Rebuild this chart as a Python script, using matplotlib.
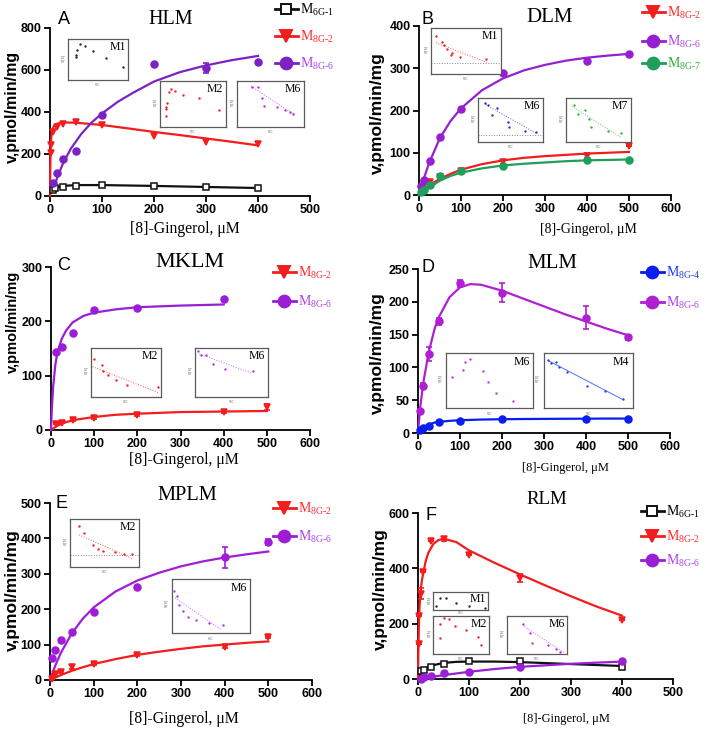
import matplotlib
matplotlib.use('Agg')
import matplotlib.pyplot as plt
from matplotlib.lines import Line2D
from matplotlib.font_manager import FontProperties

plt.rcParams['mathtext.fontset'] = 'custom'
plt.rcParams['mathtext.rm'] = 'Liberation Serif'
plt.rcParams['mathtext.it'] = 'Liberation Serif:italic'
plt.rcParams['mathtext.bf'] = 'Liberation Serif:bold'

W, H = 708, 732

# ---------------- data ----------------
# Panel A  HLM
a_x6g1 = [5, 10, 25, 50, 100, 200, 300, 400]
a_y6g1 = [28, 36, 45, 50, 52, 46, 42, 38]
a_fx6g1 = [2, 5, 10, 25, 50, 100, 200, 300, 400]
a_fy6g1 = [15, 30, 40, 48, 52, 52, 48, 43, 38]
a_x8g2 = [1, 2.5, 5, 12.5, 25, 50, 100, 200, 300, 400]
a_y8g2 = [205, 245, 305, 330, 345, 352, 338, 288, 258, 248]
a_fx8g2 = [0, 0.5, 1, 2, 3, 5, 8, 12, 20, 30, 50, 100, 150, 200, 250, 300, 350, 400]
a_fy8g2 = [0, 120, 200, 265, 295, 320, 335, 343, 348, 350, 349, 338, 322, 305, 290, 274, 258, 241]
a_x8g6 = [5, 12.5, 25, 50, 100, 200, 300, 400]
a_y8g6 = [62, 108, 178, 215, 385, 630, 610, 638]
a_e8g6 = [0, 0, 0, 0, 0, 0, 22, 0]
a_fx8g6 = [6, 10, 15, 25, 40, 60, 80, 100, 130, 160, 200, 250, 300, 350, 400]
a_fy8g6 = [35, 60, 95, 155, 225, 295, 350, 393, 448, 492, 545, 590, 622, 647, 667]

# Panel B  DLM
b_x = [5, 12.5, 25, 50, 100, 200, 400, 500]
b_y8g2 = [15, 26, 31, 42, 57, 78, 93, 117]
b_e8g2 = [0, 0, 4, 3, 0, 5, 6, 0]
b_y8g6 = [22, 36, 80, 137, 204, 288, 317, 334]
b_e8g6 = [0, 0, 0, 0, 0, 0, 5, 0]
b_y8g7 = [6, 13, 24, 46, 57, 68, 84, 83]
b_e8g7 = [0, 0, 3, 3, 3, 3, 3, 0]
b_fx = [0, 5, 12.5, 25, 50, 75, 100, 150, 200, 250, 300, 350, 400, 450, 500]
b_fy8g2 = [0, 5, 13, 24, 38, 50, 60, 73, 82, 88, 92, 95, 98, 100, 102]
b_fy8g6 = [0, 18, 42, 78, 135, 175, 205, 248, 276, 295, 308, 318, 325, 330, 334]
b_fy8g7 = [0, 4, 9, 18, 34, 45, 53, 63, 70, 74, 77, 80, 82, 83, 84]

# Panel C  MKLM
c_x8g2 = [12.5, 25, 50, 100, 200, 400, 500]
c_y8g2 = [11, 13, 18, 23, 27, 33, 42]
c_e8g2 = [0, 0, 2, 2, 2, 2, 6]
c_fx8g2 = [0, 12.5, 25, 50, 100, 150, 200, 300, 400, 500]
c_fy8g2 = [0, 7, 12, 18, 24, 28, 30, 33, 34, 35]
c_x8g6 = [12.5, 25, 50, 100, 200, 400]
c_y8g6 = [144, 153, 179, 220, 224, 241]
c_fx8g6 = [0, 2, 5, 10, 15, 25, 35, 50, 75, 100, 150, 200, 300, 400]
c_fy8g6 = [0, 40, 80, 120, 143, 168, 183, 198, 210, 216, 222, 226, 229, 231]

# Panel D  MLM
d_x = [5, 12.5, 25, 50, 100, 200, 400, 500]
d_y8g4 = [4, 8, 11, 17, 19, 21, 21, 22]
d_e8g4 = [1, 1, 1, 1, 1, 1, 1, 1]
d_y8g6 = [34, 72, 120, 170, 228, 214, 176, 146]
d_e8g6 = [2, 4, 11, 6, 5, 14, 17, 4]
d_fx = [0, 5, 12.5, 25, 40, 50, 75, 100, 125, 150, 200, 250, 300, 350, 400, 450, 500]
d_fy8g4 = [0, 5, 9, 13, 16, 17, 18.5, 19.5, 20, 20.5, 21, 21.3, 21.5, 21.7, 21.8, 22, 22]
d_fy8g6 = [0, 38, 76, 122, 160, 177, 207, 222, 227, 226, 217, 205, 193, 181, 170, 159, 149]

# Panel E  MPLM
e_x = [5, 12.5, 25, 50, 100, 200, 400, 500]
e_y8g2 = [3, 17, 22, 36, 46, 70, 94, 121]
e_e8g2 = [0, 3, 3, 5, 3, 3, 5, 3]
e_y8g6 = [61, 85, 112, 137, 193, 262, 347, 390]
e_e8g6 = [0, 0, 0, 0, 0, 0, 30, 8]
e_fx = [0, 12.5, 25, 50, 75, 100, 150, 200, 250, 300, 350, 400, 450, 500]
e_fy8g2 = [0, 7, 14, 26, 36, 45, 59, 71, 80, 88, 95, 100, 105, 109]
e_fy8g6 = [0, 42, 77, 132, 173, 205, 250, 281, 303, 321, 335, 346, 355, 363]

# Panel F  RLM
f_x6g1 = [5, 12.5, 25, 50, 100, 200, 400]
f_y6g1 = [28, 34, 42, 55, 64, 65, 43]
f_fx6g1 = [0, 5, 12.5, 25, 50, 75, 100, 150, 200, 300, 400]
f_fy6g1 = [0, 24, 37, 48, 58, 62, 63, 63, 61, 54, 47]
f_x8g2 = [1, 2.5, 5, 10, 25, 50, 100, 200, 400]
f_y8g2 = [128, 229, 308, 386, 498, 505, 449, 365, 214]
f_e8g2 = [0, 0, 20, 0, 0, 8, 0, 15, 0]
f_fx8g2 = [0, 0.5, 1, 2, 3, 5, 7.5, 10, 15, 20, 30, 40, 50, 75, 100, 150, 200, 250, 300, 350, 400]
f_fy8g2 = [0, 70, 130, 210, 260, 315, 355, 380, 425, 455, 488, 502, 507, 495, 465, 420, 378, 338, 299, 262, 229]
f_x8g6 = [5, 12.5, 25, 50, 100, 200, 400]
f_y8g6 = [1, 6, 10, 20, 24, 42, 64]
f_fx8g6 = [0, 25, 50, 100, 150, 200, 300, 400]
f_fy8g6 = [0, 7, 14, 26, 36, 44, 55, 63]

# Inset (Eadie-Hofstee) points, normalised units
a_m1_x = [0.20, 0.28, 0.15, 0.13, 0.14, 0.42, 0.63, 0.91]
a_m1_y = [0.89, 0.83, 0.73, 0.60, 0.56, 0.71, 0.53, 0.32]
a_m2_x = [0.16, 0.23, 0.13, 0.35, 0.59, 0.10, 0.09, 0.09, 0.09, 0.89]
a_m2_y = [0.82, 0.78, 0.76, 0.70, 0.62, 0.53, 0.44, 0.39, 0.23, 0.36]
a_m6_x = [0.22, 0.32, 0.38, 0.40, 0.60, 0.72, 0.79, 0.84]
a_m6_y = [0.87, 0.87, 0.62, 0.46, 0.43, 0.37, 0.32, 0.29]
a_m6_lx = [0.21, 0.86]
a_m6_ly = [0.89, 0.26]
b_m1_x = [0.07, 0.16, 0.19, 0.23, 0.30, 0.29, 0.42, 0.78]
b_m1_y = [0.83, 0.70, 0.62, 0.54, 0.46, 0.41, 0.38, 0.33]
b_m1_lx = [0.07, 0.80]
b_m1_ly = [0.68, 0.25]
b_m6_x = [0.11, 0.15, 0.29, 0.22, 0.46, 0.47, 0.73, 0.89]
b_m6_y = [0.88, 0.84, 0.77, 0.61, 0.46, 0.34, 0.25, 0.23]
b_m6_lx = [0.12, 0.89]
b_m6_ly = [0.85, 0.20]
b_m7_x = [0.12, 0.29, 0.18, 0.35, 0.39, 0.65, 0.84]
b_m7_y = [0.85, 0.72, 0.63, 0.53, 0.35, 0.24, 0.20]
b_m7_lx = [0.09, 0.84]
b_m7_ly = [0.81, 0.11]
c_m2_x = [0.04, 0.15, 0.17, 0.24, 0.36, 0.51, 0.96]
c_m2_y = [0.78, 0.66, 0.53, 0.44, 0.35, 0.24, 0.21]
c_m2_lx = [0.02, 0.98]
c_m2_ly = [0.62, 0.08]
c_m6_x = [0.04, 0.08, 0.15, 0.24, 0.41, 0.79]
c_m6_y = [0.93, 0.86, 0.85, 0.68, 0.58, 0.53]
c_m6_lx = [0.06, 0.77]
c_m6_ly = [0.88, 0.49]
d_m6_x = [0.07, 0.19, 0.22, 0.28, 0.43, 0.48, 0.58, 0.77]
d_m6_y = [0.57, 0.69, 0.84, 0.89, 0.67, 0.47, 0.28, 0.13]
d_m4_x = [0.05, 0.08, 0.13, 0.17, 0.26, 0.48, 0.69, 0.89]
d_m4_y = [0.87, 0.82, 0.84, 0.74, 0.65, 0.40, 0.31, 0.17]
d_m4_lx = [0.05, 0.89]
d_m4_ly = [0.86, 0.15]
e_m2_x = [0.13, 0.21, 0.33, 0.40, 0.48, 0.65, 0.78, 0.90]
e_m2_y = [0.85, 0.71, 0.45, 0.38, 0.33, 0.31, 0.28, 0.28]
e_m2_lx = [0.13, 0.91]
e_m2_ly = [0.67, 0.17]
e_m6_x = [0.03, 0.06, 0.09, 0.14, 0.20, 0.31, 0.47, 0.65]
e_m6_y = [0.77, 0.69, 0.52, 0.40, 0.29, 0.24, 0.19, 0.15]
e_m6_lx = [0.04, 0.62]
e_m6_ly = [0.65, 0.07]
f_m1_x = [0.13, 0.24, 0.05, 0.41, 0.65, 0.94]
f_m1_y = [0.64, 0.68, 0.25, 0.38, 0.22, 0.10]
f_m2_x = [0.12, 0.19, 0.29, 0.39, 0.59, 0.80, 0.86, 0.12]
f_m2_y = [0.79, 0.94, 0.91, 0.75, 0.62, 0.46, 0.25, 0.41]
f_m6_x = [0.27, 0.38, 0.41, 0.68, 0.82, 0.89]
f_m6_y = [0.79, 0.54, 0.30, 0.25, 0.13, 0.05]
f_m6_lx = [0.29, 0.95]
f_m6_ly = [0.72, 0.04]

# ---------------- styling ----------------
RED = '#f41c1c'
BLACK = '#111111'
GREEN = '#1f9e5c'
BLUE = '#0a1ef0'
PURPLE = {'A': '#7d22c2', 'B': '#9520cf', 'C': '#9a1ed6', 'D': '#b01fd2', 'E': '#a01dd8', 'F': '#9a1fd6'}
TXT = {'6G-1': '#000000', '8G-2': '#ff2a2a', '8G-6': '#b044e6', '8G-7': '#2fae3a', '8G-4': '#1f3cf0'}

SANS = 'Liberation Sans'
SERIF = 'Liberation Serif'

fig = plt.figure(figsize=(W / 100, H / 100), dpi=100)


def px_axes(l, t, r, b):
    return fig.add_axes([l / W, 1 - b / H, (r - l) / W, (b - t) / H])


def ftext(x, y, s, **kw):
    fig.text(x / W, 1 - y / H, s, **kw)


def main_axes(box, xlim, xticks, ylim, yticks):
    ax = px_axes(*box)
    ax.set_xlim(*xlim)
    ax.set_ylim(*ylim)
    ax.set_xticks(xticks)
    ax.set_yticks(yticks)
    for s in ('top', 'right'):
        ax.spines[s].set_visible(False)
    for s in ('left', 'bottom'):
        ax.spines[s].set_linewidth(1.3)
    ax.tick_params(direction='out', length=4, width=1.3, pad=2)
    for lab in ax.get_xticklabels() + ax.get_yticklabels():
        lab.set_fontfamily(SANS)
        lab.set_fontweight('bold')
        lab.set_fontsize(9)
    ax.patch.set_alpha(0)
    return ax


def series(ax, x, y, fx, fy, color, marker, err=None, ms=4.5, mfc=None):
    ax.plot(fx, fy, '-', color=color, lw=1.6, clip_on=False, zorder=3)
    if err is not None:
        ax.errorbar(x, y, yerr=err, fmt='none', ecolor=color, elinewidth=1.2,
                    capsize=2.2, capthick=1.2, clip_on=False, zorder=4)
    ax.plot(x, y, linestyle='none', marker=marker, ms=ms, color=color,
            mfc=mfc if mfc else color, mec=color, mew=1.1, clip_on=False, zorder=5)


def legend_row(x, y, key, color, marker, ms, mfc=None, size=10):
    h = Line2D([], [], color=color, lw=2.0, marker=marker, ms=ms,
               mfc=mfc if mfc else color, mec=color, mew=1.4)
    lab = r'M$_\text{%s}$' % key
    fig.legend([h], [lab], loc='center left', bbox_to_anchor=(x / W, 1 - y / H),
               frameon=False, prop=FontProperties(family=SERIF, size=size),
               handlelength=1.65, handletextpad=0.12, borderpad=0, borderaxespad=0,
               labelcolor=[TXT[key]])


def inset(box, label, px, py, color, lx=None, ly=None, ls=':', base=None):
    ax = px_axes(*box)
    ax.set_xlim(0, 1)
    ax.set_ylim(0, 1)
    ax.set_xticks([])
    ax.set_yticks([])
    for s in ax.spines.values():
        s.set_color('#5a5a5a')
        s.set_linewidth(0.9)
    if base is not None:
        ax.axhline(base, ls=':', color='#8a8a8a', lw=0.7)
    if lx is not None:
        ax.plot(lx, ly, ls=ls, color=color, lw=0.7, alpha=0.75)
    ax.plot(px, py, 'o', ms=1.7, color=color, mew=0)
    ax.text(0.96, 0.95, label, transform=ax.transAxes, ha='right', va='top',
            family=SERIF, fontsize=8.5)
    ax.text(-0.07, 0.55, 'V/[S]', transform=ax.transAxes, rotation=90, ha='center',
            va='center', fontsize=2.3, color='#555555')
    ax.text(0.5, -0.07, 'V/C', transform=ax.transAxes, ha='center', va='top',
            fontsize=2.3, color='#555555')
    return ax


def decorate(letter, lpos, title, tpos, tsize, ylab_x, ylab_y, ylab_size, xlab_pos, xlab_size):
    ftext(lpos[0], lpos[1], letter, family=SANS, fontsize=13, ha='left', va='center')
    ftext(tpos[0], tpos[1], title, family=SERIF, fontsize=tsize, ha='center', va='center')
    ftext(ylab_x, ylab_y, 'v,pmol/min/mg', family=SANS, fontweight='bold', fontsize=ylab_size,
          rotation=90, ha='center', va='center')
    ftext(xlab_pos[0], xlab_pos[1], '[8]-Gingerol, \u03bcM', family=SERIF, fontsize=xlab_size,
          ha='center', va='center')


# ---------------- Panel A ----------------
ax = main_axes((50, 28, 310, 196), (0, 500), range(0, 501, 100), (0, 800), range(0, 801, 200))
series(ax, a_x6g1, a_y6g1, a_fx6g1, a_fy6g1, BLACK, 's', mfc='white', ms=4.8)
series(ax, a_x8g2, a_y8g2, a_fx8g2, a_fy8g2, RED, 'v', ms=5)
series(ax, a_x8g6, a_y8g6, a_fx8g6, a_fy8g6, PURPLE['A'], 'o', err=a_e8g6, ms=5)
decorate('A', (58, 20), 'HLM', (171, 19), 14.5, 12, 107, 11.5, (185, 229), 11.3)
legend_row(275, 10, '6G-1', BLACK, 's', 7, mfc='white')
legend_row(275, 37, '8G-2', RED, 'v', 8)
legend_row(275, 64, '8G-6', PURPLE['A'], 'o', 8.5)
inset((68, 39, 128, 80), 'M1', a_m1_x, a_m1_y, '#222222')
inset((160, 81, 226, 127), 'M2', a_m2_x, a_m2_y, RED)
inset((237, 81, 304, 127), 'M6', a_m6_x, a_m6_y, '#b030e0', a_m6_lx, a_m6_ly)

# ---------------- Panel B ----------------
ax = main_axes((419, 26, 671, 195), (0, 600), range(0, 601, 100), (0, 400), range(0, 401, 100))
series(ax, b_x, b_y8g2, b_fx, b_fy8g2, RED, 'v', err=b_e8g2, ms=5)
series(ax, b_x, b_y8g6, b_fx, b_fy8g6, PURPLE['B'], 'o', err=b_e8g6, ms=5)
series(ax, b_x, b_y8g7, b_fx, b_fy8g7, GREEN, 'o', err=b_e8g7, ms=5)
decorate('B', (421, 20), 'DLM', (550, 18), 15, 377, 113, 12.5, (588, 230), 10)
legend_row(642, 13, '8G-2', RED, 'v', 8)
legend_row(642, 42, '8G-6', PURPLE['B'], 'o', 8.5)
legend_row(642, 64, '8G-7', GREEN, 'o', 8.5)
inset((431, 28, 501, 74), 'M1', b_m1_x, b_m1_y, RED, b_m1_lx, b_m1_ly, base=0.25)
inset((478, 98, 543, 142), 'M6', b_m6_x, b_m6_y, '#2030c0', b_m6_lx, b_m6_ly, base=0.15)
inset((566, 98, 631, 142), 'M7', b_m7_x, b_m7_y, '#30b030', b_m7_lx, b_m7_ly)

# ---------------- Panel C ----------------
ax = main_axes((51, 267, 310, 430), (0, 600), range(0, 601, 100), (0, 300), range(0, 301, 100))
series(ax, c_x8g2, c_y8g2, c_fx8g2, c_fy8g2, RED, 'v', err=c_e8g2, ms=5)
series(ax, c_x8g6, c_y8g6, c_fx8g6, c_fy8g6, PURPLE['C'], 'o', ms=5)
decorate('C', (57, 265), 'MKLM', (190, 262), 16, 13, 322, 10.5, (184, 460), 11.3)
legend_row(273, 273, '8G-2', RED, 'v', 8)
legend_row(273, 302, '8G-6', PURPLE['C'], 'o', 8.5)
inset((91, 348, 161, 397), 'M2', c_m2_x, c_m2_y, RED, c_m2_lx, c_m2_ly)
inset((195, 348, 268, 397), 'M6', c_m6_x, c_m6_y, '#b030e0', c_m6_lx, c_m6_ly)

# ---------------- Panel D ----------------
ax = main_axes((418, 269, 670, 433), (0, 600), range(0, 601, 100), (0, 250), range(0, 251, 50))
series(ax, d_x, d_y8g4, d_fx, d_fy8g4, BLUE, 'o', err=d_e8g4, ms=5)
series(ax, d_x, d_y8g6, d_fx, d_fy8g6, PURPLE['D'], 'o', err=d_e8g6, ms=5)
decorate('D', (421, 267), 'MLM', (552, 263), 15, 377, 353, 12.5, (565, 468), 9)
legend_row(641, 273, '8G-4', BLUE, 'o', 8.5)
legend_row(641, 303, '8G-6', PURPLE['D'], 'o', 8.5)
inset((446, 353, 533, 408), 'M6', d_m6_x, d_m6_y, '#c030e0')
inset((544, 353, 633, 408), 'M4', d_m4_x, d_m4_y, '#2040f0', d_m4_lx, d_m4_ly, ls='-')

# ---------------- Panel E ----------------
ax = main_axes((50, 503, 312, 680), (0, 600), range(0, 601, 100), (0, 500), range(0, 501, 100))
series(ax, e_x, e_y8g2, e_fx, e_fy8g2, RED, 'v', err=e_e8g2, ms=5)
series(ax, e_x, e_y8g6, e_fx, e_fy8g6, PURPLE['E'], 'o', err=e_e8g6, ms=5)
decorate('E', (55, 503), 'MPLM', (187, 496), 14.7, 12, 590, 12.5, (184, 719), 11.3)
legend_row(273, 509, '8G-2', RED, 'v', 8)
legend_row(273, 537, '8G-6', PURPLE['E'], 'o', 8.5)
inset((70, 519, 139, 567), 'M2', e_m2_x, e_m2_y, RED, e_m2_lx, e_m2_ly, base=0.24)
inset((172, 579, 250, 633), 'M6', e_m6_x, e_m6_y, '#b030e0', e_m6_lx, e_m6_ly)

# ---------------- Panel F ----------------
ax = main_axes((418, 513, 673, 679), (0, 500), range(0, 501, 100), (0, 600), range(0, 601, 200))
series(ax, f_x6g1, f_y6g1, f_fx6g1, f_fy6g1, BLACK, 's', mfc='white', ms=4.8)
series(ax, f_x8g2, f_y8g2, f_fx8g2, f_fy8g2, RED, 'v', err=f_e8g2, ms=5)
series(ax, f_x8g6, f_y8g6, f_fx8g6, f_fy8g6, PURPLE['F'], 'o', ms=5)
decorate('F', (426, 516), 'RLM', (547, 500), 13.6, 380, 589, 12.5, (566, 719), 9)
legend_row(641, 512, '6G-1', BLACK, 's', 7, mfc='white')
legend_row(641, 537, '8G-2', RED, 'v', 8)
legend_row(641, 561, '8G-6', PURPLE['F'], 'o', 8.5)
inset((433, 592, 488, 610), 'M1', f_m1_x, f_m1_y, '#222222')
inset((433, 616, 489, 654), 'M2', f_m2_x, f_m2_y, RED)
inset((507, 616, 567, 654), 'M6', f_m6_x, f_m6_y, '#b030e0', f_m6_lx, f_m6_ly)

fig.savefig('out.png', dpi=100)
